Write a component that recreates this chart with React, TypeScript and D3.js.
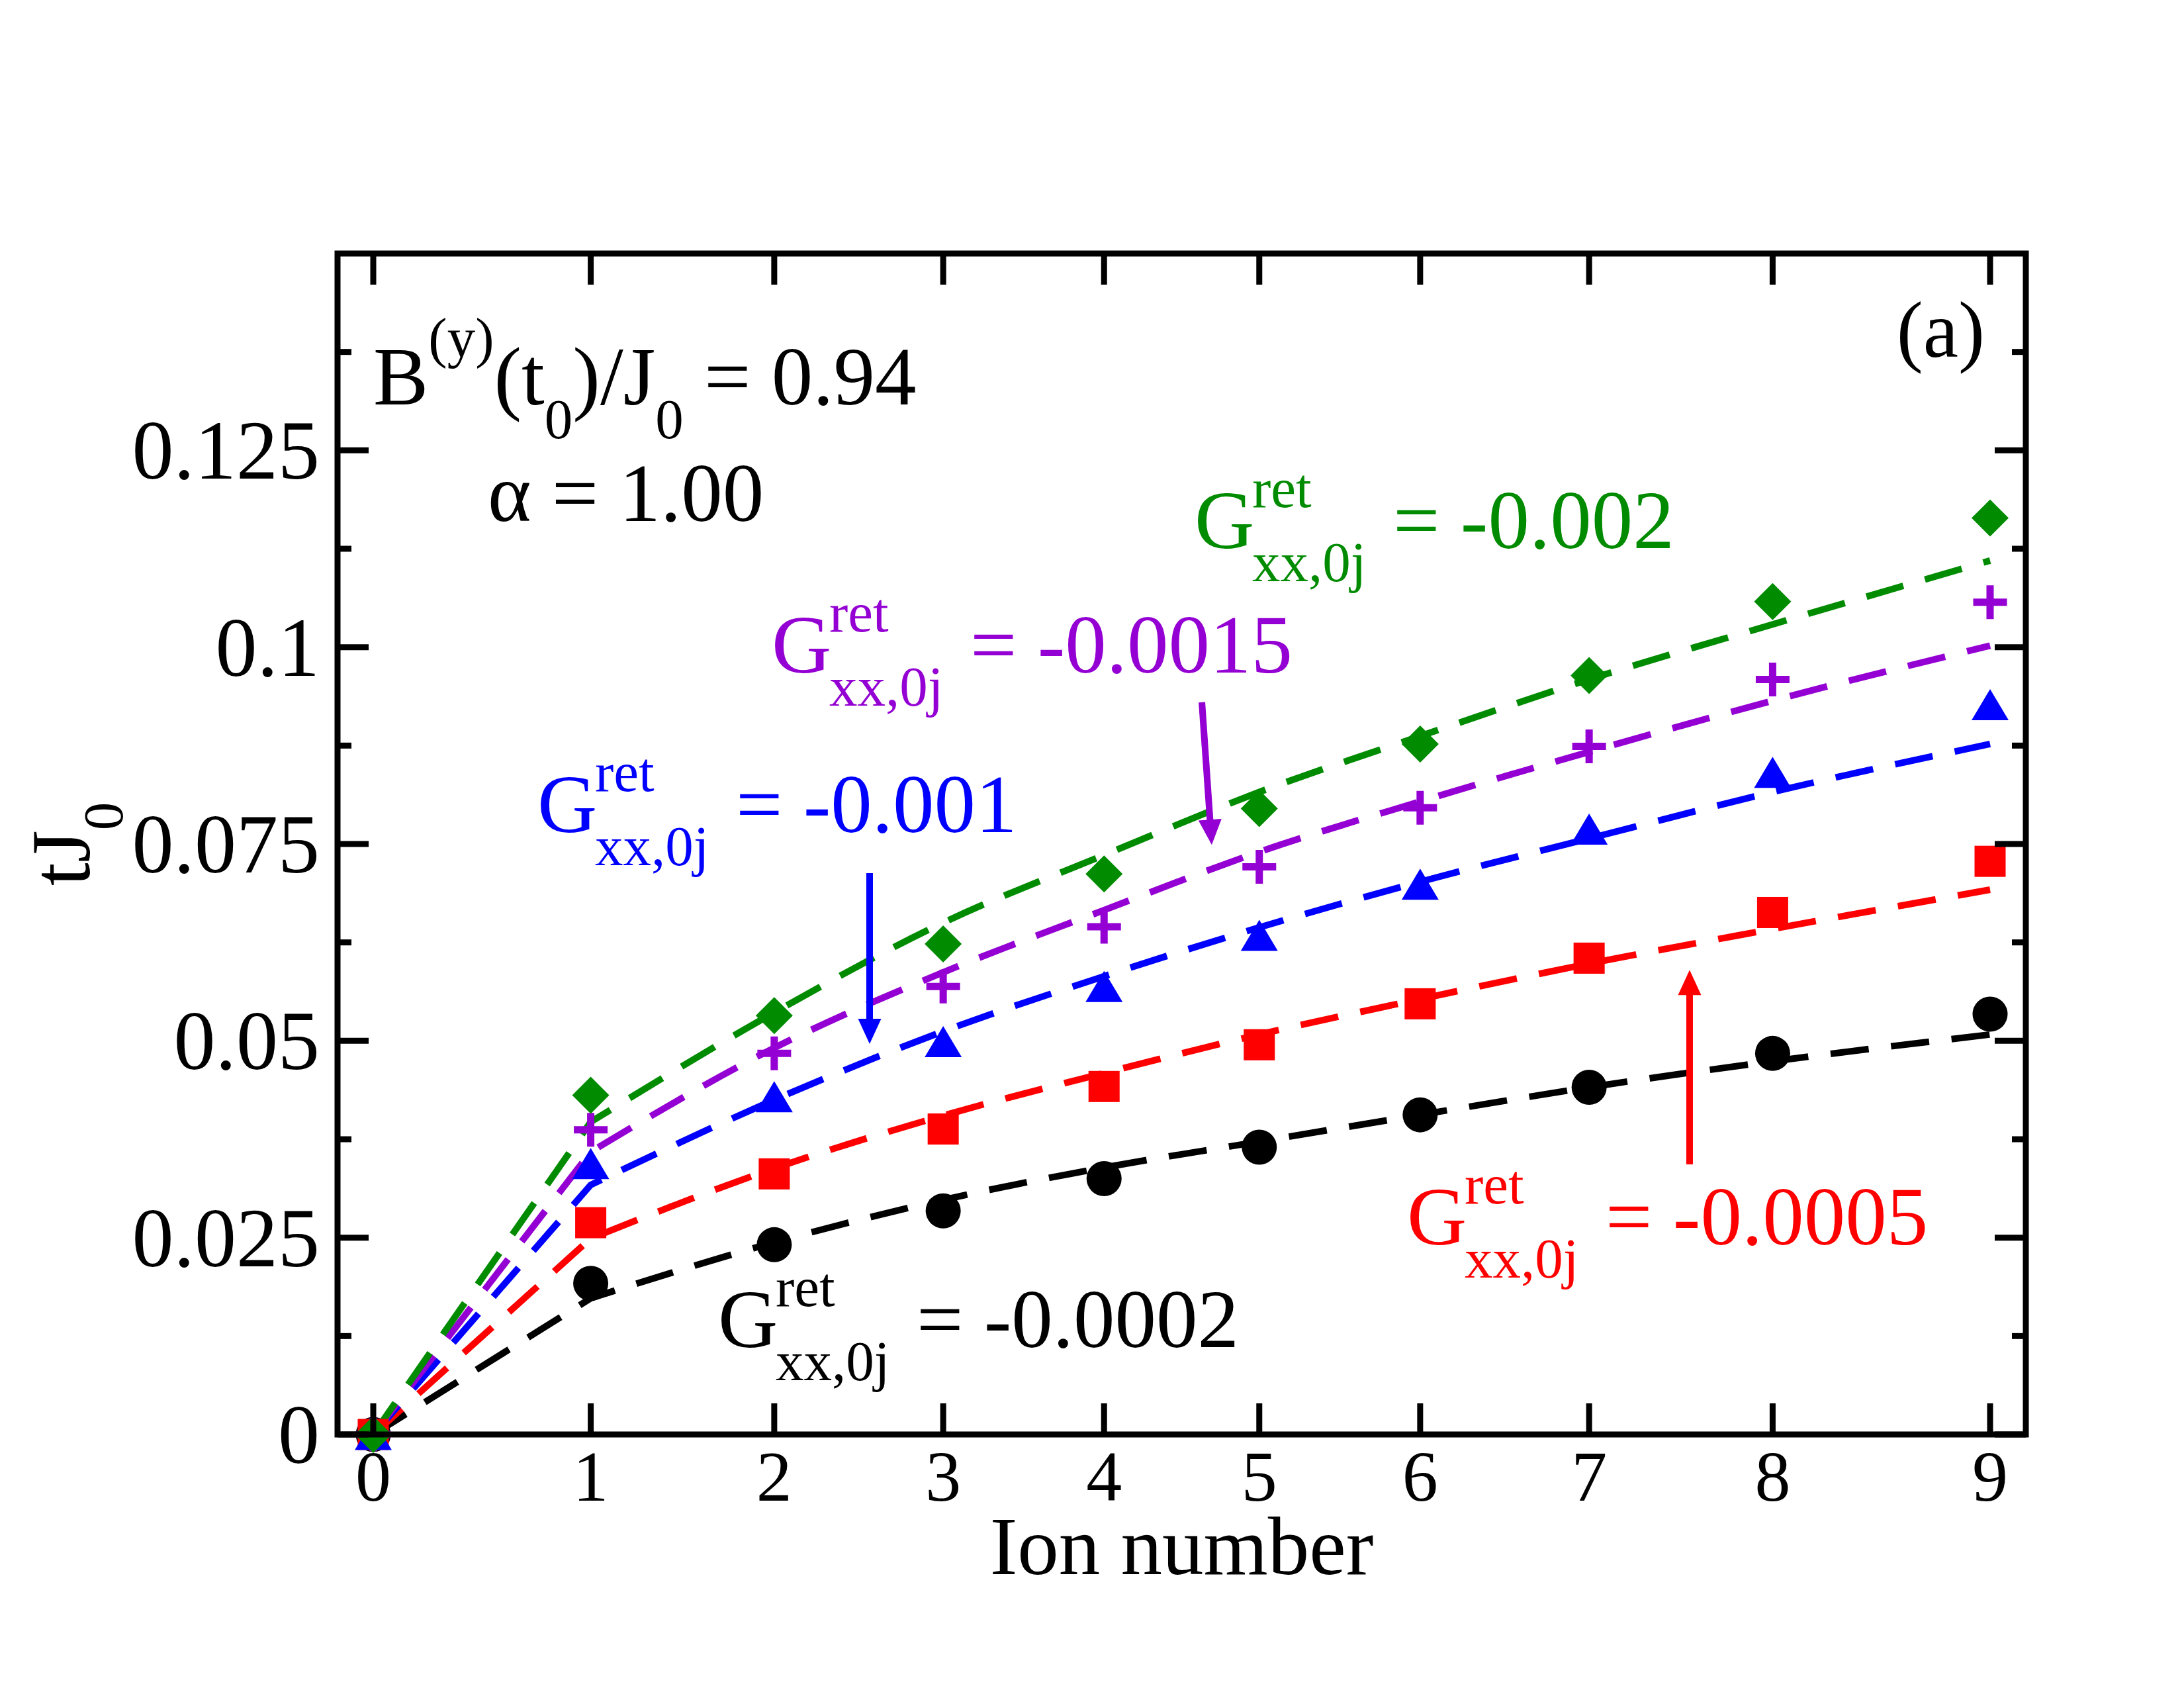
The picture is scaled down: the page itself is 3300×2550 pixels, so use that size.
import React from 'react';
import * as d3 from 'd3';

// ---------------- data ----------------
const ionLabels = ['0', '1', '2', '3', '4', '5', '6', '7', '8', '9'];
// equilibrium positions of the ions (scaled so the end ions sit at -1 and +1)
const ionPositions = [-1, -0.731, -0.504, -0.295, -0.096, 0.096, 0.295, 0.504, 0.731, 1];

const yMajorTicks = [0, 0.025, 0.05, 0.075, 0.1, 0.125];
const yTickLabels = ['0', '0.025', '0.05', '0.075', '0.1', '0.125'];
const yMinorTicks = [0.0125, 0.0375, 0.0625, 0.0875, 0.1125, 0.1375];

const blackPoints = [0, 0.0192, 0.0241, 0.0284, 0.0325, 0.0365, 0.0406, 0.0441, 0.0484, 0.0534];
const blackFit = [0, 0.0173, 0.0244, 0.0298, 0.0339, 0.0372, 0.0406, 0.0441, 0.0474, 0.0508];

const redPoints = [0, 0.0269, 0.0331, 0.0388, 0.0442, 0.0495, 0.0547, 0.0605, 0.0663, 0.0728];
const redFit = [0, 0.0249, 0.0338, 0.0405, 0.0459, 0.0508, 0.0553, 0.0598, 0.0642, 0.0692];

const bluePoints = [0, 0.0344, 0.0429, 0.0499, 0.0569, 0.0634, 0.0699, 0.0769, 0.0841, 0.0927];
const blueFit = [0, 0.0317, 0.0425, 0.0512, 0.0582, 0.0644, 0.0702, 0.0757, 0.0816, 0.0877];

const purplePoints = [0, 0.0387, 0.0484, 0.0569, 0.0645, 0.0721, 0.0796, 0.0874, 0.0959, 0.1057];
const purpleFit = [0, 0.0359, 0.0491, 0.0587, 0.0666, 0.0740, 0.0804, 0.0867, 0.0932, 0.1002];

const greenPoints = [0, 0.0431, 0.0532, 0.0623, 0.0712, 0.0795, 0.0877, 0.0964, 0.1058, 0.1164];
const greenFit = [0, 0.0397, 0.0536, 0.0650, 0.0736, 0.0816, 0.0887, 0.0959, 0.1029, 0.1110];

const seriesNames = ['-0.0002', '-0.0005', '-0.001', '-0.0015', '-0.002'];
const seriesColors = ['#000000', '#ff0000', '#0000ff', '#9400d3', '#008b00'];
const seriesMarkers = ['circle', 'square', 'triangle', 'plus', 'diamond'];
const seriesPoints = [blackPoints, redPoints, bluePoints, purplePoints, greenPoints];
const seriesFits = [blackFit, redFit, blueFit, purpleFit, greenFit];

// annotation anchors in data coordinates [x position, tJ0]
const labelAnchors = [
  [-0.5735, 0.0111],
  [0.2788, 0.0241],
  [-0.797, 0.0765],
  [-0.5072, 0.0968],
  [0.016, 0.1126],
];
const arrows = [
  { color: '#9400d3', from: [0.025, 0.093], to: [0.0372, 0.0749] },
  { color: '#0000ff', from: [-0.386, 0.0713], to: [-0.386, 0.0496] },
  { color: '#ff0000', from: [0.6283, 0.0343], to: [0.6283, 0.059] },
];

// ---------------- layout ----------------
const W = 3300;
const H = 2550;
const plot = { left: 510, right: 3061, top: 383, bottom: 2167 };
const FONT = "'Liberation Serif', 'Times New Roman', Times, serif";

const x = d3.scaleLinear().domain([-1.0442, 1.0442]).range([plot.left, plot.right]);
const y = d3.scaleLinear().domain([0, 0.15]).range([plot.bottom, plot.top]);

function fitPath(fit: number[]): string {
  const pts: [number, number][] = fit.map((v, i) => [x(ionPositions[i]), y(v)]);
  const head = `M${pts[0][0]},${pts[0][1]}`;
  const rest = d3.line().curve(d3.curveMonotoneX)(pts.slice(1)) || '';
  return head + rest.replace(/^M/, 'L');
}

function Marker({ shape, color, cx, cy }: { shape: string; color: string; cx: number; cy: number }) {
  if (shape === 'circle') return <circle cx={cx} cy={cy} r={26.5} fill={color} />;
  if (shape === 'square') return <rect x={cx - 23.5} y={cy - 23.5} width={47} height={47} fill={color} />;
  if (shape === 'triangle')
    return <path d={`M${cx},${cy - 23.5}L${cx + 28},${cy + 23.5}L${cx - 28},${cy + 23.5}Z`} fill={color} />;
  if (shape === 'diamond')
    return <path d={`M${cx},${cy - 28}L${cx + 28},${cy}L${cx},${cy + 28}L${cx - 28},${cy}Z`} fill={color} />;
  return (
    <path
      d={`M${cx - 25.5},${cy}H${cx + 25.5}M${cx},${cy - 25.5}V${cy + 25.5}`}
      stroke={color}
      strokeWidth={11}
      fill="none"
    />
  );
}

function GLabel({ px, py, color, value }: { px: number; py: number; color: string; value: string }) {
  return (
    <g fill={color} fontFamily={FONT}>
      <text x={px} y={py} fontSize={125}>G</text>
      <text x={px + 87} y={py - 62} fontSize={85}>ret</text>
      <text x={px + 87} y={py + 50} fontSize={85}>xx,0j</text>
      <text x={px + 300} y={py} fontSize={125} style={{ whiteSpace: 'pre' }}>{`= ${value}`}</text>
    </g>
  );
}

function Arrow({ color, from, to }: { color: string; from: number[]; to: number[] }) {
  const x1 = x(from[0]);
  const y1 = y(from[1]);
  const x2 = x(to[0]);
  const y2 = y(to[1]);
  const dx = x2 - x1;
  const dy = y2 - y1;
  const len = Math.hypot(dx, dy);
  const ux = dx / len;
  const uy = dy / len;
  const headLen = 38;
  const headHalf = 17.5;
  const bx = x2 - ux * headLen;
  const by = y2 - uy * headLen;
  const nx = -uy;
  const ny = ux;
  return (
    <g>
      <line x1={x1} y1={y1} x2={bx + ux * 2} y2={by + uy * 2} stroke={color} strokeWidth={10} />
      <path
        d={`M${x2},${y2}L${bx + nx * headHalf},${by + ny * headHalf}L${bx - nx * headHalf},${by - ny * headHalf}Z`}
        fill={color}
      />
    </g>
  );
}

export default function App() {
  const majorLen = 47;
  const minorLen = 21;
  return (
    <svg
      width={W}
      height={H}
      viewBox={`0 0 ${W} ${H}`}
      style={{ position: 'absolute', left: 0, top: 0, background: '#ffffff' }}
    >
      <rect x={0} y={0} width={W} height={H} fill="#ffffff" />

      {/* fit lines */}
      {seriesFits.map((fit, si) => (
        <path
          key={`fit-${si}`}
          d={fitPath(fit)}
          fill="none"
          stroke={seriesColors[si]}
          strokeWidth={10}
          strokeDasharray="58 34"
        />
      ))}

      {/* markers */}
      {seriesPoints.map((pts, si) => (
        <g key={`pts-${si}`}>
          {pts.map((v, i) => (
            <Marker
              key={i}
              shape={seriesMarkers[si]}
              color={seriesColors[si]}
              cx={x(ionPositions[i])}
              cy={y(v)}
            />
          ))}
        </g>
      ))}

      {/* ticks */}
      <g stroke="#000" strokeWidth={9}>
        {ionPositions.map((p, i) => (
          <g key={`xt-${i}`}>
            <line x1={x(p)} x2={x(p)} y1={plot.bottom} y2={plot.bottom - majorLen} />
            <line x1={x(p)} x2={x(p)} y1={plot.top} y2={plot.top + majorLen} />
          </g>
        ))}
        {yMajorTicks.map((v, i) => (
          <g key={`yt-${i}`}>
            <line x1={plot.left} x2={plot.left + majorLen} y1={y(v)} y2={y(v)} />
            <line x1={plot.right} x2={plot.right - majorLen} y1={y(v)} y2={y(v)} />
          </g>
        ))}
        {yMinorTicks.map((v, i) => (
          <g key={`ym-${i}`}>
            <line x1={plot.left} x2={plot.left + minorLen} y1={y(v)} y2={y(v)} />
            <line x1={plot.right} x2={plot.right - minorLen} y1={y(v)} y2={y(v)} />
          </g>
        ))}
      </g>

      {/* frame */}
      <rect
        x={plot.left}
        y={plot.top}
        width={plot.right - plot.left}
        height={plot.bottom - plot.top}
        fill="none"
        stroke="#000"
        strokeWidth={9}
      />

      {/* tick labels */}
      <g fontFamily={FONT} fill="#000">
        {ionPositions.map((p, i) => (
          <text key={`xl-${i}`} x={x(p)} y={2267} fontSize={108} textAnchor="middle">
            {ionLabels[i]}
          </text>
        ))}
        {yMajorTicks.map((v, i) => (
          <text key={`yl-${i}`} x={483} y={y(v)} dy="0.34em" fontSize={126} textAnchor="end">
            {yTickLabels[i]}
          </text>
        ))}
        <text x={(plot.left + plot.right) / 2} y={2378} fontSize={125} textAnchor="middle">
          Ion number
        </text>
        <text
          transform={`translate(135, ${(plot.top + plot.bottom) / 2}) rotate(-90)`}
          fontSize={126}
          textAnchor="middle"
        >
          tJ<tspan fontSize={85} dy={50}>0</tspan>
        </text>
      </g>

      {/* parameter text */}
      <g fontFamily={FONT} fill="#000" style={{ whiteSpace: 'pre' }}>
        <text x={x(-1)} y={y(0.1308)} fontSize={125}>
          B<tspan fontSize={85} dy={-72}>(y)</tspan>
          <tspan fontSize={125} dy={72}>(t</tspan>
          <tspan fontSize={85} dy={51}>0</tspan>
          <tspan fontSize={125} dy={-51}>)/J</tspan>
          <tspan fontSize={85} dy={51}>0</tspan>
          <tspan fontSize={125} dy={-51}> = 0.94</tspan>
        </text>
        <text x={x(-0.8584)} y={y(0.116)} fontSize={125}>
          α = 1.00
        </text>
        <text x={x(0.9934)} y={y(0.1369)} fontSize={120} textAnchor="end">
          (a)
        </text>
      </g>

      {/* series labels */}
      {labelAnchors.map((a, i) => (
        <GLabel key={`lab-${i}`} px={x(a[0])} py={y(a[1])} color={seriesColors[i]} value={seriesNames[i]} />
      ))}

      {/* arrows */}
      {arrows.map((a, i) => (
        <Arrow key={`ar-${i}`} color={a.color} from={a.from} to={a.to} />
      ))}
    </svg>
  );
}
